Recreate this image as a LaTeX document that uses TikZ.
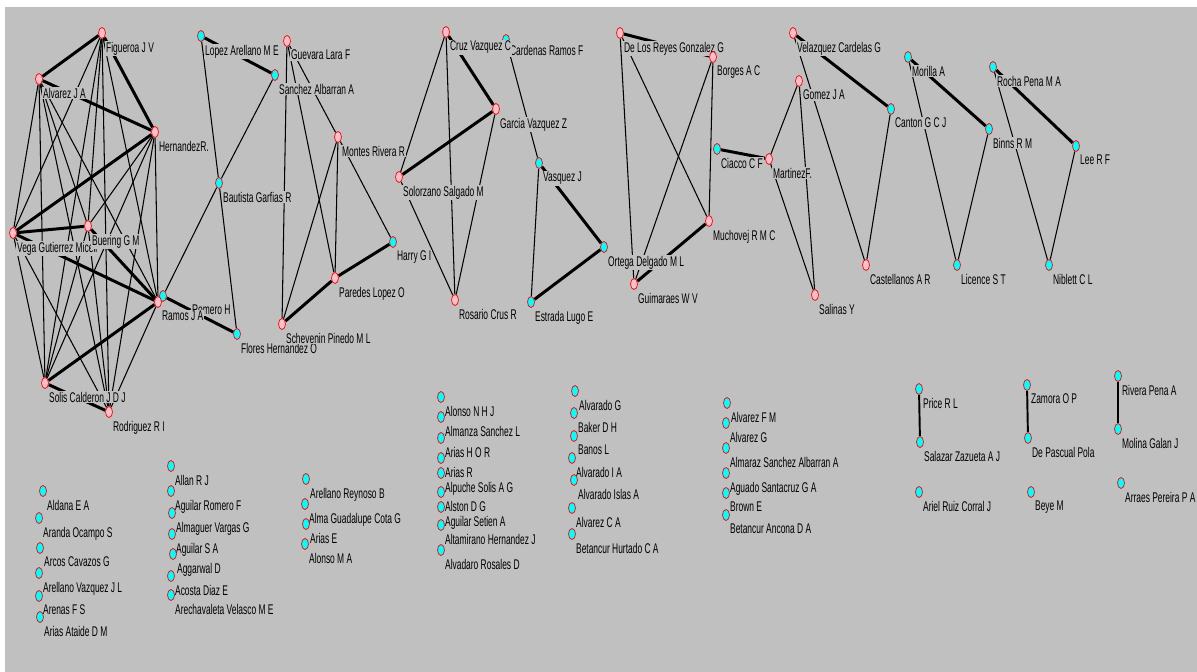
\documentclass[tikz,border=0pt]{standalone}
\usepackage{fontspec}
\setmainfont{Liberation Sans}[FakeStretch=0.6]
\usepackage{xcolor}
\usepackage{tikz}
\usetikzlibrary{shapes.geometric}
\definecolor{bgc}{RGB}{192,192,192}
\definecolor{pinkc}{RGB}{255,192,203}
\definecolor{cyanc}{RGB}{0,255,255}
\pgfdeclarelayer{back}
\pgfdeclarelayer{links}
\pgfsetlayers{back,links,main}
\begin{document}
\begin{tikzpicture}[x=0.02cm,y=-0.02cm,
vtx/.style={ellipse,draw=red,line width=0.4pt,minimum width=0.14cm,minimum height=0.22cm,inner sep=0pt},
pk/.style={vtx,fill=pinkc},
cy/.style={vtx,fill=cyanc},
every label/.style={fill=bgc,inner xsep=0.6pt,inner ysep=0.6pt,yshift=-2pt,font=\fontsize{8}{9}\selectfont},
ln/.style={line width=0.6pt},
hv/.style={line width=1.7pt},
md/.style={line width=1.1pt}]
\useasboundingbox (0,0) rectangle (1197,672);
\begin{pgfonlayer}{back}
\fill[white] (0,0) rectangle (1197,672);
\fill[bgc] (5,7) rectangle (1197,672);
\end{pgfonlayer}
\node[pk,label={south east:Figueroa J V}] (fig) at (102,33) {};
\node[pk,label={south east:Alvarez J A}] (alv) at (39,79) {};
\node[pk,label={south east:HernandezR.}] (her) at (155,132) {};
\node[pk,label={south east:Vega Gutierrez Miceli}] (veg) at (13,233) {};
\node[pk,label={south east:Buering G M}] (bue) at (88,226) {};
\node[cy,label={[xshift=0.5cm]south east:Romero H}] (rom) at (163,296) {};
\node[pk,label={south east:Ramos J A}] (ram) at (158,302) {};
\node[pk,label={south east:Solis Calderon J D J}] (sol) at (45,383) {};
\node[pk,label={south east:Rodriguez R I}] (rod) at (109,412) {};
\node[cy,label={south east:Lopez Arellano M E}] (lop) at (201,36) {};
\node[cy,label={south east:Sanchez Albarran A}] (san) at (275,75) {};
\node[cy,label={south east:Bautista Garfias R}] (bau) at (219,183) {};
\node[cy,label={south east:Flores Hernandez O}] (flo) at (237,334) {};
\node[pk,label={south east:Guevara Lara F}] (gue) at (287,41) {};
\node[pk,label={south east:Montes Rivera R}] (mon) at (338,137) {};
\node[pk,label={south east:Schevenin Pinedo M L}] (sch) at (282,324) {};
\node[pk,label={south east:Paredes Lopez O}] (par) at (335,278) {};
\node[cy,label={south east:Harry G I}] (har) at (393,242) {};
\node[cy,label={[yshift=2pt]south east:Cardenas Ramos F}] (car) at (506,40) {};
\node[pk,label={south east:Cruz Vazquez C}] (cru) at (446,32) {};
\node[pk,label={south east:Garcia Vazquez Z}] (gar) at (496,109) {};
\node[pk,label={south east:Solorzano Salgado M}] (slz) at (399,177) {};
\node[pk,label={south east:Rosario Crus R}] (ros) at (455,300) {};
\node[cy,label={south east:Vasquez J}] (vas) at (539,163) {};
\node[cy,label={south east:Ortega Delgado M L}] (ort) at (604,247) {};
\node[cy,label={south east:Estrada Lugo E}] (est) at (531,302) {};
\node[pk,label={south east:De Los Reyes Gonzalez G}] (dlr) at (620,33) {};
\node[pk,label={south east:Borges A C}] (bor) at (713,57) {};
\node[cy,label={south east:Ciacco C F}] (cia) at (717,149) {};
\node[pk,label={south east:Muchovej R M C}] (muc) at (709,221) {};
\node[pk,label={south east:Guimaraes W V}] (gui) at (634,284) {};
\node[pk,label={south east:Velazquez Cardelas G}] (vel) at (793,33) {};
\node[pk,label={south east:Gomez J A}] (gom) at (799,81) {};
\node[pk,label={south east:MartinezF.}] (mar) at (769,159) {};
\node[pk,label={south east:Salinas Y}] (sal) at (815,295) {};
\node[pk,label={south east:Castellanos A R}] (cas) at (866,265) {};
\node[cy,label={south east:Canton G C J}] (can) at (891,109) {};
\node[cy,label={south east:Morilla A}] (mor) at (908,57) {};
\node[cy,label={south east:Binns R M}] (bin) at (989,129) {};
\node[cy,label={south east:Licence S T}] (lic) at (957,265) {};
\node[cy,label={south east:Rocha Pena M A}] (roc) at (993,67) {};
\node[cy,label={south east:Lee R F}] (lee) at (1076,146) {};
\node[cy,label={south east:Niblett C L}] (nib) at (1049,265) {};
\node[cy,label={south east:Price R L}] (pri) at (919,389) {};
\node[cy,label={south east:Salazar Zazueta A J}] (saz) at (920,442) {};
\node[cy,label={south east:Ariel Ruiz Corral J}] (ari) at (919,492) {};
\node[cy,label={south east:Zamora O P}] (zam) at (1027,385) {};
\node[cy,label={south east:De Pascual Pola}] (dep) at (1028,438) {};
\node[cy,label={south east:Beye M}] (bey) at (1031,492) {};
\node[cy,label={south east:Rivera Pena A}] (riv) at (1118,376) {};
\node[cy,label={south east:Molina Galan J}] (mol) at (1118,429) {};
\node[cy,label={south east:Arraes Pereira P A}] (arr) at (1121,483) {};
\foreach \i/\x/\y/\t in {1/43/491/Aldana E A,2/39/518/Aranda Ocampo S,3/40/548/Arcos Cavazos G,
  4/39/573/Arellano Vazquez J L,5/39/596/Arenas F S,6/40/617/Arias Ataide D M}
  \node[cy,label={south east:\t}] (a\i) at (\x,\y) {};
\foreach \i/\x/\y/\t in {1/171/466/Allan R J,2/171/491/Aguilar Romero F,3/172/513/Almaguer Vargas G,
  4/172/534/Aguilar S A,5/173/554/Aggarwal D,6/171/576/Acosta Diaz E,7/171/595/Arechavaleta Velasco M E}
  \node[cy,label={south east:\t}] (b\i) at (\x,\y) {};
\foreach \i/\x/\y/\t in {1/306/479/Arellano Reynoso B,2/305/504/Alma Guadalupe Cota G,3/306/524/Arias E,
  4/305/544/Alonso M A}
  \node[cy,label={south east:\t}] (c\i) at (\x,\y) {};
\foreach \i/\x/\y/\t in {1/441/397/Alonso N H J,2/441/417/Almanza Sanchez L,3/441/438/Arias H O R,
  4/441/458/Arias R,5/441/473/Alpuche Solis A G,6/441/492/Alston D G,7/441/507/Aguilar Setien A,
  8/441/525/Altamirano Hernandez J,9/441/550/Alvadaro Rosales D}
  \node[cy,label={south east:\t}] (d\i) at (\x,\y) {};
\foreach \i/\x/\y/\t in {1/575/391/Alvarado G,2/574/413/Baker D H,3/574/436/Banos L,4/572/458/Alvarado I A,
  5/574/480/Alvarado Islas A,6/572/508/Alvarez C A,7/572/534/Betancur Hurtado C A}
  \node[cy,label={south east:\t}] (e\i) at (\x,\y) {};
\foreach \i/\x/\y/\t in {1/727/403/Alvarez F M,2/726/423/Alvarez G,3/726/448/Almaraz Sanchez Albarran A,
  4/726/473/Aguado Santacruz G A,5/726/493/Brown E,6/726/515/Betancur Ancona D A}
  \node[cy,label={south east:\t}] (f\i) at (\x,\y) {};
\begin{pgfonlayer}{links}
\foreach \a/\b in {fig/alv,alv/her,fig/her,veg/her,veg/bue,veg/ram,sol/ram,sol/rod,bue/ram,
  rom/flo,lop/san,par/har,sch/par,cru/gar,slz/gar,vas/ort,est/ort,dlr/bor,muc/gui,cia/mar,
  vel/can,mor/bin,roc/lee}
  \draw[hv] (\a) -- (\b);
\foreach \a/\b in {fig/veg,fig/bue,fig/ram,fig/sol,fig/rod,alv/veg,alv/bue,alv/ram,alv/sol,alv/rod,
  her/bue,her/ram,her/sol,her/rod,veg/sol,veg/rod,bue/sol,bue/rod,ram/rod,
  rom/bau,lop/bau,san/bau,bau/flo,gue/sch,gue/par,gue/mon,mon/sch,mon/par,mon/har,
  cru/slz,cru/ros,slz/ros,gar/ros,car/vas,vas/est,dlr/gui,dlr/muc,bor/gui,bor/muc,
  vel/cas,gom/mar,gom/sal,mar/sal,cas/can,mor/lic,bin/lic,roc/nib,lee/nib}
  \draw[ln] (\a) -- (\b);
\foreach \a/\b in {pri/saz,zam/dep,riv/mol}
  \draw[md] (\a) -- (\b);
\end{pgfonlayer}
\end{tikzpicture}
\end{document}
